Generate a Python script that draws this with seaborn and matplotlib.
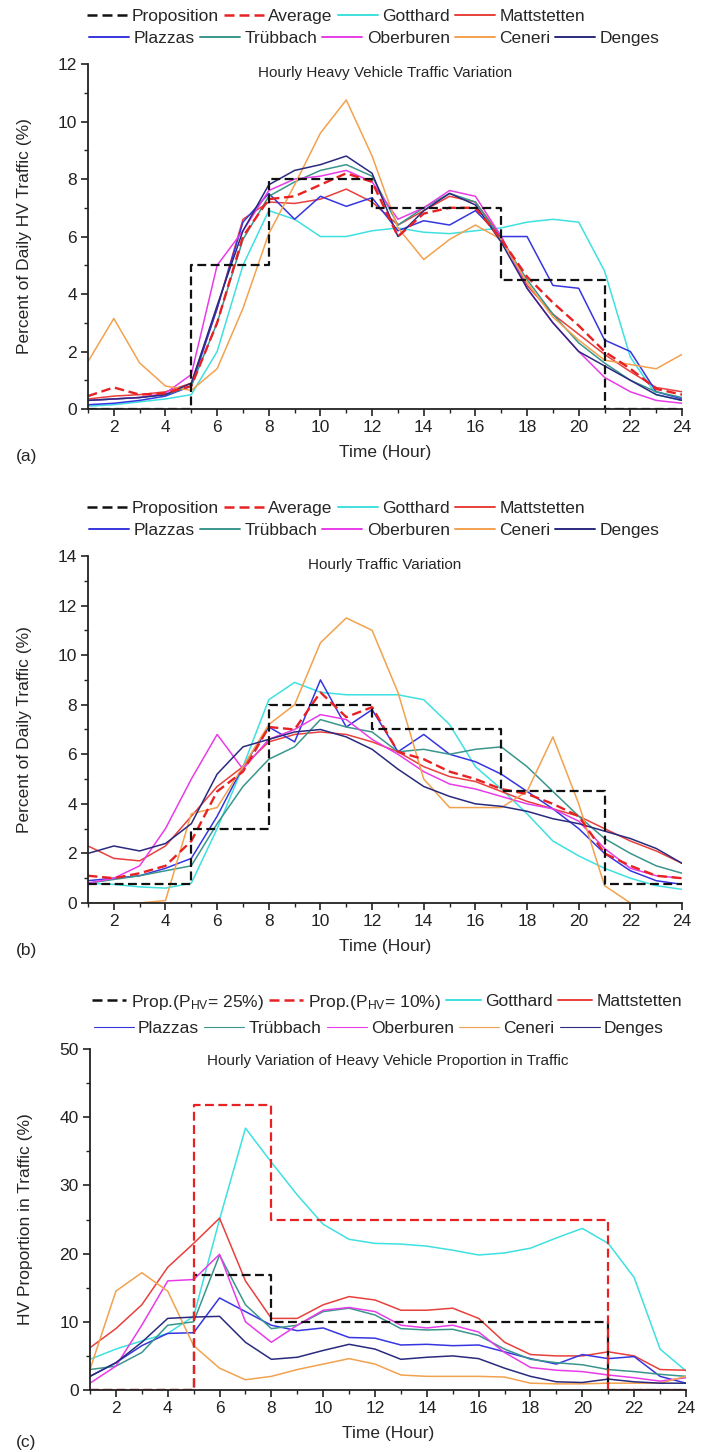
import numpy as np
import pandas as pd
import matplotlib
matplotlib.use("Agg")
import matplotlib.pyplot as plt
from matplotlib.lines import Line2D
from matplotlib.ticker import MultipleLocator
import seaborn as sns

# ---------------- data ----------------
hours = list(range(1, 25))
stations = ["Gotthard", "Mattstetten", "Plazzas", "Trübbach", "Oberburen", "Ceneri", "Denges"]

# (a) Hourly heavy vehicle traffic variation (% of daily HV traffic)
a_gotthard = [0.1, 0.15, 0.25, 0.35, 0.5, 2.0, 5.0, 6.9, 6.6, 6.0, 6.0, 6.2, 6.3, 6.15, 6.1, 6.2, 6.3, 6.5, 6.6, 6.5, 4.8, 1.8, 0.5, 0.3]
a_mattstetten = [0.35, 0.45, 0.5, 0.6, 0.9, 3.5, 6.6, 7.2, 7.15, 7.3, 7.65, 7.2, 6.4, 6.9, 7.4, 7.2, 6.0, 4.3, 3.3, 2.6, 1.9, 1.3, 0.75, 0.6]
a_plazzas = [0.15, 0.2, 0.3, 0.45, 0.8, 3.5, 6.5, 7.5, 6.6, 7.4, 7.05, 7.35, 6.2, 6.55, 6.4, 6.9, 6.0, 6.0, 4.3, 4.2, 2.4, 2.0, 0.6, 0.35]
a_trubbach = [0.3, 0.35, 0.4, 0.5, 0.8, 3.0, 5.9, 7.4, 7.9, 8.3, 8.5, 8.1, 6.4, 7.0, 7.5, 7.2, 5.9, 4.5, 3.3, 2.3, 1.6, 1.0, 0.6, 0.4]
a_oberburen = [0.3, 0.35, 0.4, 0.55, 1.2, 5.0, 6.2, 7.6, 8.0, 8.1, 8.3, 7.9, 6.6, 7.0, 7.6, 7.4, 6.0, 4.2, 3.0, 2.0, 1.1, 0.6, 0.3, 0.2]
a_ceneri = [1.65, 3.15, 1.6, 0.8, 0.65, 1.4, 3.5, 6.1, 7.8, 9.6, 10.75, 8.8, 6.3, 5.2, 5.9, 6.4, 5.9, 4.4, 3.2, 2.4, 1.7, 1.55, 1.4, 1.9]
a_denges = [0.3, 0.35, 0.4, 0.5, 0.9, 3.6, 6.2, 7.8, 8.3, 8.5, 8.8, 8.2, 6.0, 6.9, 7.5, 7.1, 5.8, 4.2, 3.0, 2.0, 1.5, 1.0, 0.5, 0.3]
a_average = [0.45, 0.75, 0.5, 0.55, 0.8, 3.0, 6.0, 7.3, 7.4, 7.8, 8.2, 7.9, 6.0, 6.8, 7.0, 7.0, 5.9, 4.6, 3.7, 2.9, 2.0, 1.4, 0.7, 0.5]
a_prop_hours = [1, 5, 8, 12, 17, 21, 24]
a_prop_values = [0, 5, 8, 7, 4.5, 0, 0]

# (b) Hourly traffic variation (% of daily traffic)
b_gotthard = [0.8, 0.75, 0.65, 0.6, 0.8, 3.0, 5.5, 8.2, 8.9, 8.5, 8.4, 8.4, 8.4, 8.2, 7.2, 5.5, 4.6, 3.6, 2.5, 1.9, 1.4, 1.0, 0.7, 0.55]
b_mattstetten = [2.3, 1.8, 1.7, 2.3, 3.5, 4.7, 5.5, 6.5, 6.8, 6.9, 6.8, 6.5, 6.1, 5.5, 5.1, 4.9, 4.5, 4.1, 3.8, 3.5, 3.0, 2.5, 2.1, 1.6]
b_plazzas = [0.9, 1.0, 1.1, 1.4, 1.8, 3.5, 5.5, 7.1, 6.5, 9.0, 7.1, 7.8, 6.1, 6.8, 6.0, 5.7, 5.2, 4.5, 3.8, 3.0, 2.0, 1.3, 0.9, 0.75]
b_trubbach = [0.8, 0.95, 1.1, 1.3, 1.5, 3.2, 4.7, 5.8, 6.3, 7.4, 7.1, 6.9, 6.1, 6.2, 6.0, 6.2, 6.3, 5.5, 4.5, 3.5, 2.6, 2.0, 1.5, 1.2]
b_oberburen = [0.8, 1.0, 1.5, 3.0, 5.0, 6.8, 5.4, 6.6, 7.0, 7.6, 7.4, 6.6, 6.0, 5.3, 4.8, 4.6, 4.3, 4.0, 3.8, 3.3, 2.2, 1.4, 1.1, 1.0]
b_ceneri = [0, 0, 0, 0.1, 3.6, 3.85, 5.5, 7.2, 8.0, 10.5, 11.5, 11.0, 8.5, 5.0, 3.85, 3.85, 3.85, 4.5, 6.7, 4.0, 0.7, 0, 0, 0]
b_denges = [2.0, 2.3, 2.1, 2.4, 3.2, 5.2, 6.3, 6.6, 6.9, 7.0, 6.7, 6.2, 5.4, 4.7, 4.3, 4.0, 3.9, 3.7, 3.4, 3.2, 2.9, 2.6, 2.2, 1.6]
b_average = [1.1, 1.0, 1.2, 1.5, 2.5, 4.5, 5.3, 7.1, 7.0, 8.5, 7.5, 7.9, 6.1, 5.8, 5.3, 5.0, 4.6, 4.4, 4.0, 3.5, 2.0, 1.5, 1.1, 1.0]
b_prop_hours = [1, 5, 8, 12, 17, 21, 24]
b_prop_values = [0.75, 3, 8, 7, 4.5, 0.75, 0.75]

# (c) Hourly heavy vehicle proportion in traffic (%)
c_gotthard = [4.5, 6.0, 7.2, 8.3, 10.8, 25.0, 38.4, 33.4, 28.6, 24.3, 22.1, 21.5, 21.4, 21.1, 20.5, 19.8, 20.1, 20.8, 22.3, 23.7, 21.5, 16.5, 6.0, 2.8]
c_mattstetten = [6.2, 9.0, 12.5, 18.0, 21.5, 25.2, 16.0, 10.5, 10.5, 12.5, 13.7, 13.2, 11.7, 11.7, 12.0, 10.5, 7.0, 5.2, 5.0, 5.0, 5.6, 5.0, 3.0, 2.9]
c_plazzas = [2.0, 4.0, 6.5, 8.3, 8.4, 13.5, 11.5, 9.5, 8.7, 9.1, 7.7, 7.6, 6.6, 6.7, 6.5, 6.6, 5.6, 4.6, 3.8, 5.2, 4.6, 4.9, 2.0, 1.0]
c_trubbach = [3.0, 3.5, 5.5, 9.5, 10.0, 19.8, 12.5, 9.0, 9.5, 11.5, 12.0, 11.0, 9.0, 8.8, 8.9, 8.0, 6.0, 4.5, 4.0, 3.7, 3.0, 2.7, 2.3, 2.0]
c_oberburen = [1.0, 3.5, 9.5, 16.0, 16.2, 19.9, 10.0, 7.0, 9.5, 11.7, 12.1, 11.5, 9.5, 9.1, 9.5, 8.5, 5.5, 3.3, 2.9, 2.7, 2.2, 1.8, 1.3, 1.8]
c_ceneri = [3.0, 14.5, 17.2, 14.5, 6.5, 3.2, 1.5, 2.0, 3.0, 3.8, 4.6, 3.8, 2.2, 2.0, 2.0, 2.0, 1.9, 1.0, 0.9, 0.9, 1.0, 1.0, 1.0, 2.0]
c_denges = [2.0, 4.0, 7.0, 10.5, 10.7, 10.8, 7.0, 4.5, 4.8, 5.8, 6.7, 6.0, 4.5, 4.8, 5.0, 4.6, 3.2, 2.0, 1.2, 1.1, 1.6, 1.2, 1.0, 1.0]
c_prop25_hours = [1, 5, 8, 21, 24]
c_prop25_values = [0, 16.8, 10, 0, 0]
c_prop10_hours = [1, 5, 8, 21, 24]
c_prop10_values = [0, 41.8, 25, 0, 0]

titles = ["Hourly Heavy Vehicle Traffic Variation", "Hourly Traffic Variation",
          "Hourly Variation of Heavy Vehicle Proportion in Traffic"]
ylabels = ["Percent of Daily HV Traffic (%)", "Percent of Daily Traffic (%)", "HV Proportion in Traffic (%)"]
xlabel = "Time (Hour)"
panel_tags = ["(a)", "(b)", "(c)"]
xticks = list(range(2, 25, 2))

# ---------------- style ----------------
sns.set_theme(style="white")
plt.rcParams["font.family"] = ["Liberation Sans", "DejaVu Sans"]
plt.rcParams["mathtext.fontset"] = "custom"
plt.rcParams["mathtext.rm"] = "Liberation Sans"
plt.rcParams["mathtext.it"] = "Liberation Sans"

colors = {
    "Gotthard": "#3fe0e0",
    "Mattstetten": "#e8403c",
    "Plazzas": "#3636e0",
    "Trübbach": "#3a968c",
    "Oberburen": "#e83ce8",
    "Ceneri": "#f2a24e",
    "Denges": "#2a2a7e",
}
avg_color = "#e82222"
FS = 12.5
DASH = (4, 2)

fig = plt.figure(figsize=(7.04, 14.52), dpi=100)
ax_a = fig.add_axes([0.125, 0.7183, 0.8438, 0.2376])
ax_b = fig.add_axes([0.125, 0.3781, 0.8438, 0.2390])
ax_c = fig.add_axes([0.1278, 0.0427, 0.8466, 0.2348])


def draw_stations(ax, series, lw):
    df = pd.DataFrame({"hour": hours * len(stations),
                       "value": [v for s in stations for v in series[s]],
                       "station": [s for s in stations for _ in hours]})
    sns.lineplot(data=df, x="hour", y="value", hue="station", hue_order=stations,
                 palette=colors, linewidth=lw, legend=False, ax=ax, sort=False)


def draw_step(ax, xs, ys, color, lw=1.6):
    sns.lineplot(x=xs, y=ys, ax=ax, color=color, linewidth=lw, drawstyle="steps-post",
                 dashes=False, linestyle=(0, DASH), legend=False)


def style_axes(ax, ymax, ymaj, ymin, title, ylabel, ty):
    ax.set_xlim(1, 24)
    ax.set_ylim(0, ymax)
    ax.set_xticks(xticks)
    ax.xaxis.set_minor_locator(MultipleLocator(1))
    ax.yaxis.set_major_locator(MultipleLocator(ymaj))
    ax.yaxis.set_minor_locator(MultipleLocator(ymin))
    for s in ["top", "right"]:
        ax.spines[s].set_visible(False)
    for s in ["left", "bottom"]:
        ax.spines[s].set_color("#222222")
        ax.spines[s].set_linewidth(1.3)
    ax.tick_params(which="major", direction="out", length=5, width=1.2, colors="#222222",
                   labelsize=FS, bottom=True, left=True, pad=3)
    ax.tick_params(which="minor", direction="out", length=3, width=1.0, colors="#222222",
                   bottom=True, left=True)
    ax.set_xlabel(xlabel, fontsize=FS, labelpad=7)
    ax.set_ylabel(ylabel, fontsize=FS)
    ax.yaxis.set_label_coords(-0.095, 0.5)
    ax.text(0.5, ty, title, transform=ax.transAxes, ha="center", va="center", fontsize=11)
    ax.grid(False)


def add_legend(y1, y2, first_labels, first_styles, x0, thin_row2=False, hl1=2.3):
    h1 = []
    for lab, (col, ls, lw) in zip(first_labels, first_styles):
        h1.append(Line2D([], [], color=col, linestyle=ls, linewidth=lw))
    lw2 = 0.8 if thin_row2 else 1.4
    row2 = stations[2:]
    h2 = [Line2D([], [], color=colors[s], linewidth=lw2) for s in row2]
    common = dict(frameon=False, fontsize=FS, handletextpad=0.25,
                  columnspacing=0.3, borderaxespad=0, borderpad=0)
    l1 = fig.legend(h1, first_labels, loc="center left", bbox_to_anchor=(x0, y1), ncol=len(h1),
                    handlelength=hl1, **common)
    l2 = fig.legend(h2, row2, loc="center left", bbox_to_anchor=(x0 + 0.003, y2), ncol=len(h2),
                    handlelength=2.3, **common)
    return l1, l2


# ---------------- panel (a) ----------------
sa = dict(zip(stations, [a_gotthard, a_mattstetten, a_plazzas, a_trubbach, a_oberburen, a_ceneri, a_denges]))
draw_stations(ax_a, sa, 1.1)
sns.lineplot(x=hours, y=a_average, ax=ax_a, color=avg_color, linewidth=1.7, linestyle=(0, DASH))
draw_step(ax_a, a_prop_hours, a_prop_values, "#111111")
style_axes(ax_a, 12, 2, 1, titles[0], ylabels[0], 0.975)

# ---------------- panel (b) ----------------
sb = dict(zip(stations, [b_gotthard, b_mattstetten, b_plazzas, b_trubbach, b_oberburen, b_ceneri, b_denges]))
draw_stations(ax_b, sb, 1.1)
sns.lineplot(x=hours, y=b_average, ax=ax_b, color=avg_color, linewidth=1.7, linestyle=(0, DASH))
draw_step(ax_b, b_prop_hours, b_prop_values, "#111111")
style_axes(ax_b, 14, 2, 1, titles[1], ylabels[1], 0.975)

# ---------------- panel (c) ----------------
sc = dict(zip(stations, [c_gotthard, c_mattstetten, c_plazzas, c_trubbach, c_oberburen, c_ceneri, c_denges]))
draw_stations(ax_c, sc, 1.1)
draw_step(ax_c, c_prop25_hours, c_prop25_values, "#111111")
draw_step(ax_c, c_prop10_hours, c_prop10_values, avg_color)
style_axes(ax_c, 50, 10, 5, titles[2], ylabels[2], 0.965)

# ---------------- legends ----------------
row1_ab = ["Proposition", "Average", "Gotthard", "Mattstetten"]
row1_ab_styles = [("#111111", (0, DASH), 1.8), (avg_color, (0, DASH), 1.8),
                  (colors["Gotthard"], "-", 1.4), (colors["Mattstetten"], "-", 1.4)]
add_legend(1 - 16 / 1452, 1 - 38 / 1452, row1_ab, row1_ab_styles, 0.124)
add_legend(1 - 508 / 1452, 1 - 530 / 1452, row1_ab, row1_ab_styles, 0.124)
row1_c = [r"Prop.(P$_{\rm HV}$= 25%)", r"Prop.(P$_{\rm HV}$= 10%)", "Gotthard", "Mattstetten"]
add_legend(1 - 1002 / 1452, 1 - 1028 / 1452, row1_c, row1_ab_styles, 0.130, thin_row2=True, hl1=2.0)

# panel tags
fig.text(0.022, 1 - 456 / 1452, panel_tags[0], fontsize=FS, va="center")
fig.text(0.022, 1 - 950 / 1452, panel_tags[1], fontsize=FS, va="center")
fig.text(0.022, 1 - 1442 / 1452, panel_tags[2], fontsize=FS, va="center")

fig.savefig("out.png", dpi=100, facecolor="white")
